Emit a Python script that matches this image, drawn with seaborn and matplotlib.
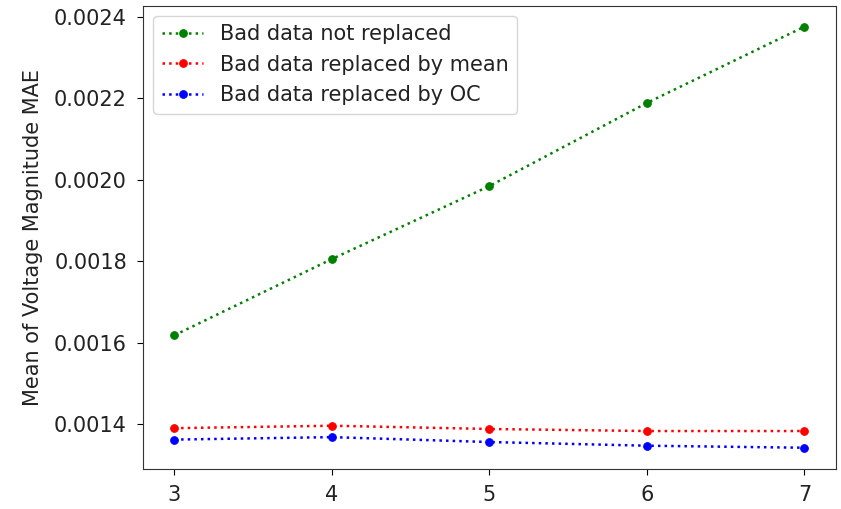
import matplotlib
matplotlib.use("Agg")
import matplotlib.pyplot as plt
import seaborn as sns
import pandas as pd

x_vals = [3, 4, 5, 6, 7]
not_replaced = [0.001619, 0.001806, 0.001985, 0.002189, 0.002376]
replaced_mean = [0.001391, 0.001397, 0.001389, 0.001384, 0.001384]
replaced_oc = [0.001363, 0.001369, 0.001357, 0.001348, 0.001343]
labels = ["Bad data not replaced", "Bad data replaced by mean", "Bad data replaced by OC"]
colors = ["green", "red", "blue"]

fig = plt.figure(figsize=(8.41, 5.09), dpi=100)
ax = fig.add_axes([0.170, 0.079, 0.824, 0.910])

for ys, lab, c in zip([not_replaced, replaced_mean, replaced_oc], labels, colors):
    df = pd.DataFrame({"x": x_vals, "y": ys})
    sns.lineplot(data=df, x="x", y="y", ax=ax, color=c, linestyle=":", marker=".",
                 markersize=11, markeredgecolor=c, label=lab, linewidth=1.8)

ax.set_xticks(x_vals)
ax.set_yticks([0.0014, 0.0016, 0.0018, 0.0020, 0.0022, 0.0024])
ax.set_yticklabels(["0.0014", "0.0016", "0.0018", "0.0020", "0.0022", "0.0024"])
ax.set_xlabel("")
ax.set_ylabel("Mean of Voltage Magnitude MAE", fontsize=15, labelpad=8, color="#222222")
ax.tick_params(labelsize=15, length=4.5, pad=7, labelcolor="#222222")
for s in ax.spines.values():
    s.set_color("#333333")
ax.legend(loc="upper left", fontsize=15, labelcolor="#222222")
fig.savefig("out.png", dpi=100)
